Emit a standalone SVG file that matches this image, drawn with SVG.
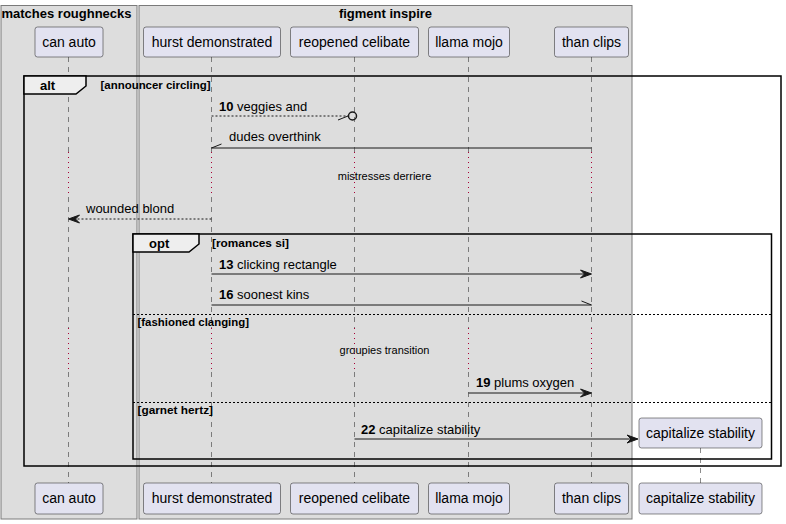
<svg xmlns="http://www.w3.org/2000/svg" width="786" height="524" viewBox="0 0 786 524">
<style>
.box{fill:#DDDDDD;stroke:#7a7a7a;stroke-width:1}
.btitle{font:bold 13px "Liberation Sans",Arial,sans-serif;fill:#000;text-anchor:middle}
.part rect{fill:#E2E2F0;stroke:#181818;stroke-width:0.5}
.part text{font:14px "Liberation Sans",Arial,sans-serif;fill:#000;text-anchor:middle}
.life{stroke:#181818;stroke-width:0.5;stroke-dasharray:5,5;fill:none}
.delay{stroke:#A80036;stroke-width:1;stroke-dasharray:1,4;fill:none}
.frame{fill:none;stroke:#000;stroke-width:1.5}
.tab{fill:#EEEEEE;stroke:#000;stroke-width:1.5}
.sep{stroke:#000;stroke-width:1;stroke-dasharray:2,2}
.ftitle{font:bold 13px "Liberation Sans",Arial,sans-serif;fill:#000}
.guard{font:bold 11px "Liberation Sans",Arial,sans-serif;fill:#000}
.msg{stroke:#181818;stroke-width:1;fill:none}
.dashed{stroke-dasharray:2,2}
.head{fill:#181818;stroke:#181818;stroke-width:1}
.mtext{font:13px "Liberation Sans",Arial,sans-serif;fill:#000}
.num{font-weight:bold}
.dtext{font:11px "Liberation Sans",Arial,sans-serif;fill:#000;text-anchor:middle}
</style>

<g id="box-matches-roughnecks">
<rect class="box" x="1" y="5.5" width="136" height="513.5"/>
<text class="btitle" x="66.5" y="18">matches roughnecks</text>
</g>
<g id="box-figment-inspire">
<rect class="box" x="139" y="5.5" width="493" height="513.5"/>
<text class="btitle" x="385.5" y="18">figment inspire</text>
</g>

<g id="lifelines">
<path class="life" d="M68.5,57V152M68.5,197V328M68.5,372V483"/>
<path class="life" d="M211.5,57V152M211.5,197V328M211.5,372V483"/>
<path class="life" d="M354.5,57V152M354.5,197V328M354.5,372V483"/>
<path class="life" d="M468.5,57V152M468.5,197V328M468.5,372V483"/>
<path class="life" d="M591.5,57V152M591.5,197V328M591.5,372V483"/>
<path class="life" d="M700.5,448V483"/>
<path class="delay" d="M68.5,152V197M211.5,152V197M354.5,152V197M468.5,152V197M591.5,152V197"/>
<path class="delay" d="M68.5,328V372M211.5,328V372M354.5,328V372M468.5,328V372M591.5,328V372"/>
</g>

<g id="can-auto" class="part">
<rect x="35" y="27" width="68" height="30" rx="2.5"/>
<text x="69" y="47">can auto</text>
<rect x="35" y="483" width="68" height="31" rx="2.5"/>
<text x="69" y="503">can auto</text>
</g>
<g id="hurst-demonstrated" class="part">
<rect x="143.5" y="27" width="137" height="30" rx="2.5"/>
<text x="212" y="47">hurst demonstrated</text>
<rect x="143.5" y="483" width="137" height="31" rx="2.5"/>
<text x="212" y="503">hurst demonstrated</text>
</g>
<g id="reopened-celibate" class="part">
<rect x="290.5" y="27" width="128" height="30" rx="2.5"/>
<text x="354.5" y="47">reopened celibate</text>
<rect x="290.5" y="483" width="128" height="31" rx="2.5"/>
<text x="354.5" y="503">reopened celibate</text>
</g>
<g id="llama-mojo" class="part">
<rect x="428.5" y="27" width="81" height="30" rx="2.5"/>
<text x="469" y="47">llama mojo</text>
<rect x="428.5" y="483" width="81" height="31" rx="2.5"/>
<text x="469" y="503">llama mojo</text>
</g>
<g id="than-clips" class="part">
<rect x="554.5" y="27" width="74" height="30" rx="2.5"/>
<text x="591.5" y="47">than clips</text>
<rect x="554.5" y="483" width="74" height="31" rx="2.5"/>
<text x="591.5" y="503">than clips</text>
</g>
<g id="capitalize-stability" class="part">
<rect x="639" y="418" width="123" height="30" rx="2.5"/>
<text x="700.5" y="438">capitalize stability</text>
<rect x="639" y="483" width="123" height="31" rx="2.5"/>
<text x="700.5" y="503">capitalize stability</text>
</g>

<g id="frame-alt">
<rect class="frame" x="24" y="76" width="757" height="390"/>
<polygon class="tab" points="24,76 86,76 86,86 76,94 24,94"/>
<text class="ftitle" x="40" y="90">alt</text>
<text class="guard" x="100.5" y="89" textLength="110" lengthAdjust="spacingAndGlyphs">[announcer circling]</text>
</g>
<g id="frame-opt">
<rect class="frame" x="133" y="234" width="638.5" height="225"/>
<polygon class="tab" points="133,234 199,234 199,244 189,252 133,252"/>
<text class="ftitle" x="149" y="248">opt</text>
<text class="guard" x="212" y="247" textLength="77" lengthAdjust="spacingAndGlyphs">[romances si]</text>
<line class="sep" x1="133" y1="314.5" x2="771.5" y2="314.5"/>
<text class="guard" x="137.5" y="326" textLength="111.5" lengthAdjust="spacingAndGlyphs">[fashioned clanging]</text>
<line class="sep" x1="133" y1="402.5" x2="771.5" y2="402.5"/>
<text class="guard" x="137.5" y="414" textLength="75.5" lengthAdjust="spacingAndGlyphs">[garnet hertz]</text>
</g>

<g id="connectors">
<g id="m10">
<line class="msg dashed" x1="211.5" y1="116" x2="348" y2="116"/>
<line class="msg" x1="348" y1="116" x2="338" y2="120"/>
<circle cx="352.5" cy="116" r="4" fill="none" stroke="#181818" stroke-width="1.5"/>
<text class="mtext" x="219" y="111"><tspan class="num">10</tspan> veggies and</text>
</g>
<g id="m-dudes">
<line class="msg" x1="591.5" y1="148" x2="211.5" y2="148"/>
<line class="msg" x1="211.5" y1="148" x2="221.5" y2="144"/>
<text class="mtext" x="229" y="141">dudes overthink</text>
</g>
<text class="dtext" x="384.5" y="180">mistresses derriere</text>
<g id="m-wounded">
<line class="msg dashed" x1="211.5" y1="219" x2="70" y2="219"/>
<polygon class="head" points="79.5,215 68.5,219 79.5,223 75.5,219"/>
<text class="mtext" x="86" y="213">wounded blond</text>
</g>
<g id="m13">
<line class="msg" x1="211.5" y1="274" x2="590" y2="274"/>
<polygon class="head" points="580.5,270 591.5,274 580.5,278 584.5,274"/>
<text class="mtext" x="219" y="269"><tspan class="num">13</tspan> clicking rectangle</text>
</g>
<g id="m16">
<line class="msg" x1="211.5" y1="305" x2="591.5" y2="305"/>
<line class="msg" x1="591.5" y1="305" x2="581.5" y2="301"/>
<text class="mtext" x="219" y="299"><tspan class="num">16</tspan> soonest kins</text>
</g>
<text class="dtext" x="384.5" y="354">groupies transition</text>
<g id="m19">
<line class="msg" x1="468.5" y1="393" x2="590" y2="393"/>
<polygon class="head" points="580.5,389 591.5,393 580.5,397 584.5,393"/>
<text class="mtext" x="476" y="387"><tspan class="num">19</tspan> plums oxygen</text>
</g>
<g id="m22">
<line class="msg" x1="354.5" y1="439" x2="636" y2="439"/>
<polygon class="head" points="627,435 638,439 627,443 631,439"/>
<text class="mtext" x="361" y="434"><tspan class="num">22</tspan> capitalize stability</text>
</g>
</g>
</svg>
